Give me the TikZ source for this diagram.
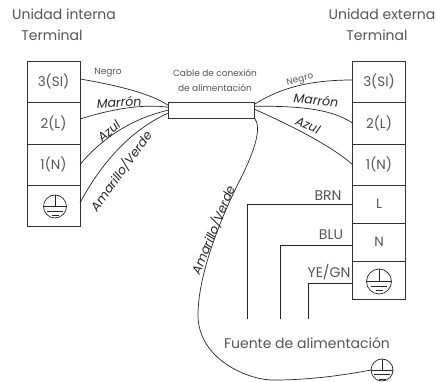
\documentclass[tikz,border=0pt]{standalone}
\usepackage{fontspec}
\setmainfont{Poppins}
\definecolor{inkgray}{HTML}{555555}
\tikzset{
  termbox/.style={draw=black!80, line width=.8pt, minimum width=53pt, inner sep=0pt, outer sep=0pt, text=inkgray, font=\fontsize{13.5}{15}\selectfont},
  gndring/.style={circle, draw=black!85, line width=.7pt, inner sep=0pt, outer sep=0pt, minimum size=#1},
  wire/.style={draw=black!85, line width=.7pt},
  title/.style={text=inkgray, inner sep=0pt, font=\fontsize{14}{16}\selectfont},
  tag/.style={text=inkgray, inner sep=0pt, font=\fontsize{9}{11}\selectfont},
  wirename/.style={text=black!85, inner sep=0pt, font=\fontsize{12.5}{14}\selectfont\itshape},
  linename/.style={text=inkgray, inner sep=0pt, font=\fontsize{14}{16}\selectfont},
}
\newcommand{\earthmark}[1]{
  \draw[wire] (#1.north) -- (#1.center);
  \draw[wire] (#1.west) -- (#1.east);
  \draw[wire] ([shift={(-8pt,-4.5pt)}]#1.center) -- ([shift={(8pt,-4.5pt)}]#1.center);
  \draw[wire] ([shift={(-3.5pt,-9pt)}]#1.center) -- ([shift={(3.5pt,-9pt)}]#1.center);
}
\begin{document}
\begin{tikzpicture}[x=1pt, y=-1pt]
\useasboundingbox (0,0) rectangle (437,382);
% Titles
\node[title] (titleA) at (64,14) {Unidad interna};
\node[title] (titleB) at (52,35) {Terminal};
\node[title] (titleC) at (382,14) {Unidad externa};
\node[title] (titleD) at (377,35) {Terminal};
\node[title] (titleE) at (307,343) {Fuente de alimentación};
% Terminal blocks
\foreach \name/\cx/\cy/\high/\txt in {int3/53.5/81.5/41/3(SI),int2/53.5/123/42/2(L),int1/53.5/164.5/41/1(N),int0/53.5/205.5/41/,
  ext3/379/81.5/41/3(SI),ext2/379/123/42/2(L),ext1/379/164.5/41/1(N),extL/379/204/38/L,extN/379/242/38/N,ext0/379/280/38/} {
  \node[termbox, minimum height=\high pt] (\name) at (\cx,\cy) {\txt};
}
% Cable
\node[draw=black!80, line width=.8pt, minimum width=86.5pt, minimum height=15.5pt, inner sep=0pt, outer sep=0pt] (cable) at (211.25,110.25) {};
\node[tag] (cableA) at (215,73) {Cable de conexión};
\node[tag] (cableB) at (215,88) {de alimentación};
% Earth marks
\node[gndring=23pt] (gndA) at (55,206.5) {};
\node[gndring=25pt] (gndB) at (379,281.5) {};
\node[gndring=22pt] (gndC) at (382,370) {};
\earthmark{gndA}
\earthmark{gndB}
\earthmark{gndC}
% Wires, indoor side
\draw[wire] ([yshift=2.5pt]int3.east) .. controls (115,85) and (150,93) .. ([yshift=5pt]cable.west);
\draw[wire] ([yshift=4pt]int2.east) .. controls (115,108) and (145,104) .. ([yshift=3pt]cable.west);
\draw[wire] (int1.east) .. controls (105,135) and (135,118) .. (cable.west);
\draw[wire] ([yshift=2.5pt]int0.east) .. controls (100,165) and (130,130) .. ([yshift=-3pt]cable.west);
% Wires, outdoor side
\draw[wire] ([yshift=6pt]cable.east) .. controls (280,88) and (310,80) .. ([yshift=1.5pt]ext3.west);
\draw[wire] ([yshift=4pt]cable.east) .. controls (295,106) and (330,108) .. (ext2.west);
\draw[wire] ([yshift=1pt]cable.east) .. controls (290,125) and (330,145) .. (ext1.west);
\draw[wire] (cable.south east) .. controls (262,128) and (255,150) .. (240,180) .. controls (226,207) and (198,270) .. (198,315) .. controls (198,360) and (250,381) .. (275,380) .. controls (310,380) and (345,375) .. (gndC.west);
% Supply lines
\coordinate (endL) at (247.5,319);
\coordinate (endN) at (280.5,319);
\coordinate (endE) at (308.5,319);
\draw[wire] (extL.west) -| (endL);
\draw[wire] ([yshift=-3pt]extN.west) -| (endN);
\draw[wire] ([yshift=-3.5pt]ext0.west) -| (endE);
% Wire names
\node[tag] (negroA) at (108,73) {Negro};
\node[wirename] (marronA) at (119,102) [rotate=3] {Marrón};
\node[wirename] (azulA) at (109,131) [rotate=41] {Azul};
\node[wirename] (amarilloA) at (121,171) [rotate=54] {Amarillo/Verde};
\node[tag, rotate=14] (negroB) at (300,80) {Negro};
\node[wirename, rotate=-5] (marronB) at (316,100) {Marrón};
\node[wirename, rotate=-24] (azulB) at (308,125) {Azul};
\node[wirename, rotate=68] (amarilloB) at (213,230) {Amarillo/Verde};
\node[linename] (brn) at (328,196) {BRN};
\node[linename] (blu) at (331,235) {BLU};
\node[linename] (yegn) at (329,272) {YE/GN};
\end{tikzpicture}
\end{document}
